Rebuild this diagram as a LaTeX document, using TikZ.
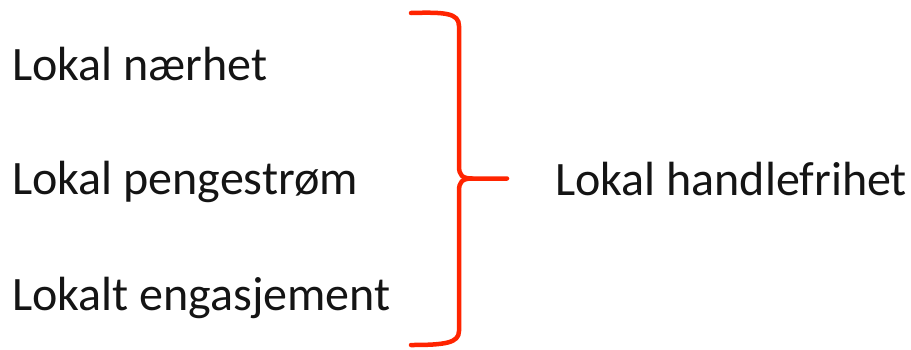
\documentclass[tikz,border=0pt]{standalone}
\usepackage{fontspec}
\setmainfont{Carlito}
\definecolor{bracered}{RGB}{255,36,0}
\definecolor{txt}{RGB}{20,20,20}
\begin{document}
\begin{tikzpicture}[x=1pt,y=-1pt,
  lbl/.style={anchor=base west,inner sep=0pt,font=\fontsize{48}{52}\selectfont,text=txt},
  bracestyle/.style={draw=bracered,line width=4.5pt,line cap=round,line join=round}]
\useasboundingbox (0,0) rectangle (911,349);
\node[lbl] (n1) at (12,80) {Lokal nærhet};
\node[lbl] (n2) at (12,194) {Lokal pengestrøm};
\node[lbl] (n3) at (12,310) {Lokalt engasjement};
\node[lbl] (r) at (555,195) {Lokal handlefrihet};
\coordinate (tip) at (507,178.5);
\path[bracestyle] (411,13) .. controls (445,12) and (459,13) .. (459,26)
  -- (459,166) .. controls (459,175) and (462,178.5) .. (472,178.5) -- (tip);
\path[bracestyle] (472,178.5) .. controls (462,178.5) and (459,182) .. (459,191)
  -- (459,331) .. controls (459,343) and (445,345) .. (411,345);
\end{tikzpicture}
\end{document}
